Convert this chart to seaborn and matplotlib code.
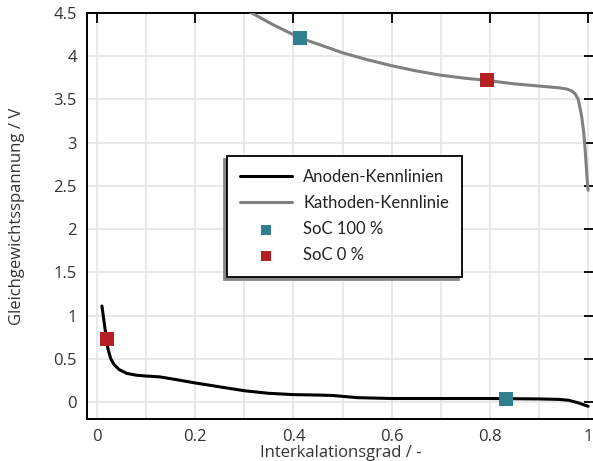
import numpy as np
import pandas as pd
import matplotlib
matplotlib.use("Agg")
import matplotlib.pyplot as plt
import seaborn as sns

# Anode characteristic (black)
anode_x = [0.010, 0.016, 0.022, 0.028, 0.035, 0.045, 0.061, 0.080, 0.100, 0.128, 0.160, 0.200,
           0.250, 0.300, 0.350, 0.400, 0.450, 0.480, 0.530, 0.600, 0.700, 0.800, 0.900, 0.940,
           0.960, 0.980, 1.000]
anode_y = [1.11, 0.86, 0.62, 0.50, 0.43, 0.375, 0.33, 0.31, 0.30, 0.29, 0.26, 0.22,
           0.175, 0.13, 0.10, 0.085, 0.08, 0.075, 0.05, 0.04, 0.04, 0.04, 0.035, 0.03,
           0.02, -0.01, -0.05]

# Cathode characteristic (gray)
cath_x = [0.300, 0.315, 0.360, 0.414, 0.460, 0.500, 0.550, 0.600, 0.650, 0.700, 0.750, 0.794,
          0.850, 0.900, 0.940, 0.957, 0.966, 0.973, 0.980, 0.987, 0.991, 0.994, 0.996, 0.998, 1.000]
cath_y = [4.55, 4.50, 4.36, 4.21, 4.12, 4.04, 3.96, 3.89, 3.83, 3.78, 3.745, 3.72,
          3.68, 3.655, 3.635, 3.62, 3.60, 3.57, 3.50, 3.30, 3.12, 2.92, 2.75, 2.58, 2.45]

# State-of-charge markers
soc100_x = [0.414, 0.832]
soc100_y = [4.21, 0.035]
soc0_x = [0.020, 0.794]
soc0_y = [0.73, 3.72]

xticks = [0, 0.2, 0.4, 0.6, 0.8, 1.0]
xtick_labels = ["0", "0.2", "0.4", "0.6", "0.8", "1"]
yticks = [0, 0.5, 1, 1.5, 2, 2.5, 3, 3.5, 4, 4.5]
ytick_labels = ["0", "0.5", "1", "1.5", "2", "2.5", "3", "3.5", "4", "4.5"]

sns.set_style("white")
plt.rcParams['font.family'] = ['Open Sans', 'DejaVu Sans']

fig = plt.figure(figsize=(5.93, 4.61), dpi=100)
ax = fig.add_axes([86.5/593, 42/461, 507.5/593, 406/461])

teal = "#2f7f8e"
red = "#b52025"

anode = pd.DataFrame({"x": anode_x, "y": anode_y})
cath = pd.DataFrame({"x": cath_x, "y": cath_y})
sns.lineplot(data=anode, x="x", y="y", ax=ax, color="black", lw=2.2, sort=False,
             label="Anoden-Kennlinien", zorder=3)
sns.lineplot(data=cath, x="x", y="y", ax=ax, color="#808080", lw=2.2, sort=False,
             label="Kathoden-Kennlinie", zorder=3)
sns.scatterplot(x=soc100_x, y=soc100_y, ax=ax, color=teal, marker="s", s=90,
                linewidth=0, label="SoC 100 %", zorder=4)
sns.scatterplot(x=soc0_x, y=soc0_y, ax=ax, color=red, marker="s", s=90,
                linewidth=0, label="SoC 0 %", zorder=4)

ax.set_xlim(-0.0214, 1.012)
ax.set_ylim(-0.197, 4.5)
ax.set_xticks(xticks)
ax.set_xticklabels(xtick_labels)
ax.set_xticks(np.arange(0.1, 1.0, 0.2), minor=True)
ax.set_yticks(yticks)
ax.set_yticklabels(ytick_labels)

ax.grid(True, which="both", axis="x", color="#e3e3e3", lw=1.1, zorder=0)
ax.grid(True, which="major", axis="y", color="#e3e3e3", lw=1.1, zorder=0)
ax.set_axisbelow(True)

ax.tick_params(axis="both", which="major", direction="in", length=7, width=1.3,
               top=True, right=True, labelsize=12, labelcolor="#333333", pad=7, color="black")
ax.tick_params(axis="x", which="minor", length=0)
for s in ax.spines.values():
    s.set_color("black")
    s.set_linewidth(1.4)

ax.set_xlabel("Interkalationsgrad / -", fontsize=12, color="#333333", labelpad=0)
ax.set_ylabel("Gleichgewichtsspannung / V", fontsize=12, color="#333333", labelpad=20)

leg = ax.legend(loc="upper left", bbox_to_anchor=(0.277, 0.648),
                prop={"family": ["Lato", "DejaVu Sans"], "size": 12},
                frameon=True, fancybox=False, edgecolor="black", framealpha=1,
                handlelength=3.1, handletextpad=0.66, borderpad=0.8, labelspacing=0.6,
                markerscale=0.8, borderaxespad=0,
                shadow={"ox": -2.5, "oy": -2.5, "color": "#888888", "alpha": 1})
leg.get_frame().set_linewidth(1.3)
for t in leg.get_texts():
    t.set_color("#222222")

fig.savefig("out.png", dpi=100)
